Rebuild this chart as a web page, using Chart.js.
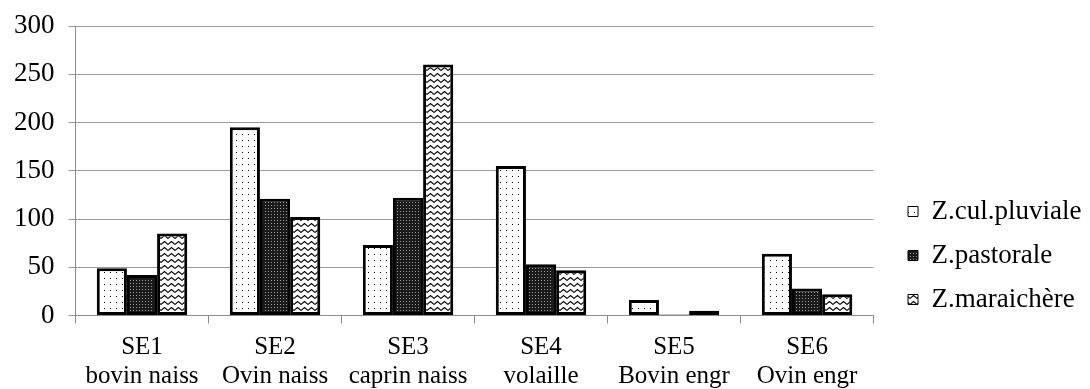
<!DOCTYPE html>
<html>
<head>
<meta charset="utf-8">
<title>SE chart</title>
<script src="https://cdn.jsdelivr.net/npm/chart.js@4/dist/chart.umd.min.js"></script>
<style>
  html, body { margin: 0; padding: 0; background: #fff; }
  #wrap { width: 1090px; height: 389px; position: relative; }
</style>
</head>
<body>
<div id="wrap"><canvas id="barChart"></canvas></div>
<script>
// data
var categories = [
    ['SE1', 'bovin naiss'],
    ['SE2', 'Ovin naiss'],
    ['SE3', 'caprin naiss'],
    ['SE4', 'volaille'],
    ['SE5', 'Bovin engr'],
    ['SE6', 'Ovin engr']
];
var seriesNames = ['Z.cul.pluviale', 'Z.pastorale', 'Z.maraichère'];
var pluviale = [49, 195, 73, 155, 16, 64];
var pastorale = [42, 121, 122, 53, 1, 28];
var maraichere = [85, 102, 260, 47, 5, 22];
var yMax = 300;
var yStep = 50;

// little fill patterns like the Excel ones
function makePattern(kind) {
    var c = document.createElement('canvas');
    var g = c.getContext('2d');
    if (kind === 'dots') {
        c.width = 6; c.height = 6;
        g.fillStyle = '#fff'; g.fillRect(0, 0, 6, 6);
        g.fillStyle = '#000';
        g.fillRect(2, 2, 1, 1);
    } else if (kind === 'dark') {
        c.width = 3; c.height = 3;
        g.fillStyle = '#1a1a1a'; g.fillRect(0, 0, 3, 3);
        g.fillStyle = '#9a9a9a';
        g.fillRect(1, 1, 1, 1);
    } else {
        c.width = 7; c.height = 6;
        g.fillStyle = '#fff'; g.fillRect(0, 0, 7, 6);
        g.strokeStyle = '#000';
        g.lineWidth = 1.1;
        g.beginPath();
        g.moveTo(-1, 4.2);
        g.lineTo(0, 4.5);
        g.lineTo(3.5, 1.5);
        g.lineTo(7, 4.5);
        g.lineTo(8, 4.2);
        g.stroke();
    }
    return g.createPattern(c, 'repeat');
}

var serif = "'Liberation Serif', 'Times New Roman', Times, serif";
var xFont = { family: serif, size: 25, lineHeight: 1.15 };
// small lineHeight keeps the top label from pushing the plot down
var yFont = { family: serif, size: 27, lineHeight: 0.85 };

var legendPos = {
    id: 'legendPos',
    afterLayout: function(chart) {
        var lg = chart.legend;
        var h = lg.bottom - lg.top;
        var w = lg.right - lg.left;
        lg.top = 181;
        lg.bottom = lg.top + h;
        lg.left = 891;
        lg.right = lg.left + w;
    }
};

window.onload = function() {
    var ctx = document.getElementById('barChart').getContext('2d');
    var chart = new Chart(ctx, {
        type: 'bar',
        data: {
            labels: categories,
            datasets: [{
                label: seriesNames[0],
                data: pluviale,
                backgroundColor: makePattern('dots'),
                borderColor: '#000',
                borderWidth: 3,
                borderSkipped: false
            }, {
                label: seriesNames[1],
                data: pastorale,
                backgroundColor: makePattern('dark'),
                borderColor: '#000',
                borderWidth: 3,
                borderSkipped: false
            }, {
                label: seriesNames[2],
                data: maraichere,
                backgroundColor: makePattern('wave'),
                borderColor: '#000',
                borderWidth: 3,
                borderSkipped: false
            }]
        },
        options: {
            responsive: true,
            maintainAspectRatio: false,
            animation: false,
            datasets: {
                bar: { categoryPercentage: 0.68, barPercentage: 1.0 }
            },
            layout: {
                padding: { top: 26, left: 0, right: 16, bottom: -12 }
            },
            scales: {
                x: {
                    grid: {
                        offset: true,
                        drawOnChartArea: false,
                        tickLength: 8,
                        color: '#8c8c8c'
                    },
                    border: { color: '#8c8c8c' },
                    ticks: { font: xFont, color: '#000', padding: 10, maxRotation: 0 }
                },
                y: {
                    min: 0,
                    max: yMax,
                    grid: { color: '#9a9a9a', tickLength: 7 },
                    border: { color: '#8c8c8c' },
                    ticks: { stepSize: yStep, font: yFont, color: '#000', padding: 14 }
                }
            },
            plugins: {
                tooltip: { enabled: false },
                legend: {
                    position: 'right',
                    align: 'start',
                    labels: {
                        boxWidth: 10,
                        boxHeight: 10,
                        padding: 17,
                        color: '#000',
                        font: { family: serif, size: 27 },
                        generateLabels: function(ch) {
                            var items = Chart.defaults.plugins.legend.labels.generateLabels(ch);
                            items.forEach(function(it) {
                                it.lineWidth = 1;
                                it.strokeStyle = '#000';
                            });
                            return items;
                        }
                    }
                }
            }
        },
        plugins: [legendPos]
    });
};
</script>
</body>
</html>
